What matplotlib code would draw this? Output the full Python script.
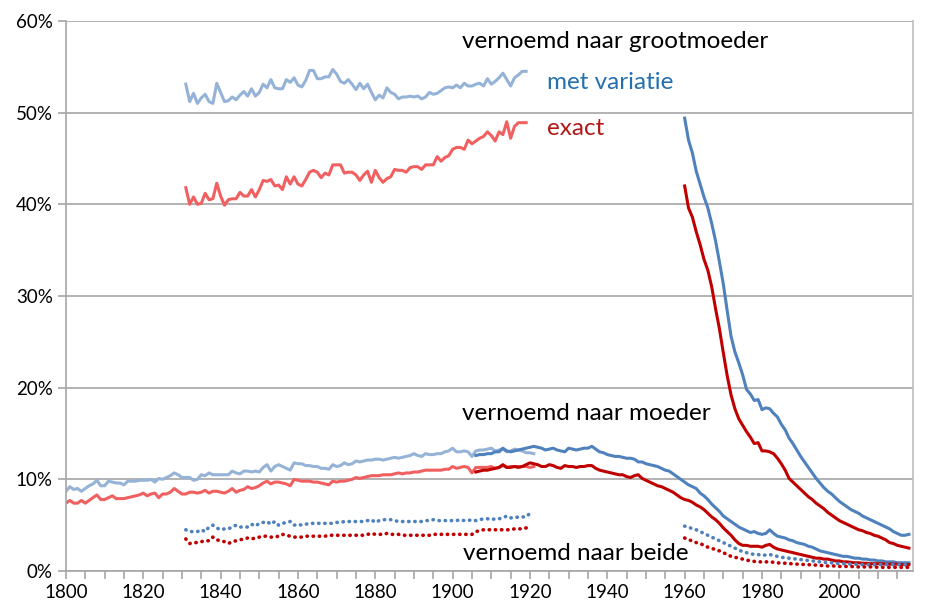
import numpy as np
import matplotlib.pyplot as plt
from matplotlib.ticker import MultipleLocator, FuncFormatter

plt.rcParams['font.family'] = ['Lato', 'DejaVu Sans']

#%% data (percentages)
# grandmother, 1831-1919
jaren_gm_oud = np.arange(1831, 1920)
gm_var_oud = [53.1, 51.2, 52.1, 51.0, 51.6, 52.0, 51.2, 51.0, 53.2, 52.2,
              51.2, 51.3, 51.7, 51.4, 51.9, 52.3, 51.8, 52.6, 51.8, 52.2,
              53.1, 52.7, 53.6, 52.7, 52.6, 52.6, 53.6, 53.3, 53.8, 53.0,
              52.8, 53.5, 54.6, 54.6, 53.7, 53.7, 53.9, 53.9, 54.7, 54.2,
              53.4, 53.2, 53.6, 53.1, 52.5, 53.2, 52.6, 53.1, 52.2, 51.4,
              51.9, 51.6, 52.7, 52.2, 52.0, 51.5, 51.7, 51.7, 51.8, 51.7,
              51.8, 51.5, 51.7, 52.2, 52.0, 52.1, 52.4, 52.7, 52.8, 52.7,
              53.0, 52.7, 53.2, 52.9, 52.9, 53.1, 53.2, 52.9, 53.7, 53.1,
              53.4, 53.8, 54.3, 53.6, 52.9, 53.8, 54.1, 54.5, 54.5]
gm_exact_oud = [41.8, 40.0, 40.8, 40.0, 40.1, 41.2, 40.5, 40.6, 42.3, 40.9,
                39.9, 40.5, 40.6, 40.6, 41.3, 40.9, 40.9, 41.6, 40.8, 41.6,
                42.6, 42.5, 42.7, 42.0, 42.1, 41.6, 43.0, 42.2, 43.0, 42.2,
                42.0, 42.7, 43.5, 43.7, 43.5, 42.9, 43.4, 43.2, 44.3, 44.3,
                44.3, 43.4, 43.5, 43.5, 43.2, 42.6, 43.2, 43.6, 42.4, 43.7,
                42.9, 42.4, 42.8, 43.0, 43.8, 43.7, 43.7, 43.5, 44.0, 44.1,
                44.1, 43.8, 44.3, 44.3, 44.3, 45.2, 44.7, 45.1, 45.3, 46.0,
                46.2, 46.2, 46.0, 47.0, 46.6, 46.9, 47.2, 47.4, 47.9, 47.5,
                46.9, 47.9, 47.6, 49.0, 47.2, 48.5, 48.9, 48.9, 48.9]

# grandmother, 1960-2018
jaren_nieuw = np.arange(1960, 2019)
gm_var_nieuw = [49.4, 47.0, 45.6, 43.6, 42.2, 40.8, 39.6, 37.9, 36.0, 33.7,
                31.3, 28.4, 25.6, 23.9, 22.7, 21.4, 19.8, 19.3, 18.6, 18.7,
                17.6, 17.8, 17.7, 17.2, 16.8, 16.0, 15.4, 14.5, 13.9, 13.2,
                12.5, 11.9, 11.3, 10.7, 10.1, 9.6, 9.1, 8.7, 8.4, 8.0,
                7.6, 7.3, 7.0, 6.7, 6.5, 6.3, 6.0, 5.8, 5.6, 5.4,
                5.2, 5.0, 4.8, 4.6, 4.3, 4.1, 3.9, 3.9, 4.0]
gm_exact_nieuw = [42.0, 39.6, 38.6, 37.0, 35.6, 34.0, 32.8, 31.0, 28.6, 26.4,
                  23.8, 21.3, 19.2, 17.7, 16.6, 15.9, 15.2, 14.6, 13.9, 14.0,
                  13.1, 13.1, 13.0, 12.8, 12.3, 11.7, 11.0, 10.1, 9.7, 9.3,
                  8.9, 8.5, 8.1, 7.8, 7.4, 7.1, 6.8, 6.4, 6.1, 5.8,
                  5.5, 5.3, 5.1, 4.9, 4.7, 4.5, 4.4, 4.2, 4.1, 3.9,
                  3.8, 3.6, 3.4, 3.1, 3.0, 2.8, 2.7, 2.6, 2.5]

# mother, 1800-1921
jaren_m_oud = np.arange(1800, 1922)
m_var_oud = [8.7, 9.2, 8.9, 9.0, 8.7, 9.0, 9.3, 9.5, 9.9, 9.3,
             9.3, 9.8, 9.7, 9.6, 9.6, 9.4, 9.8, 9.8, 9.8, 9.9,
             9.9, 9.9, 10.0, 9.7, 10.1, 10.0, 10.2, 10.4, 10.7, 10.5,
             10.2, 10.2, 10.2, 9.9, 10.0, 10.5, 10.4, 10.7, 10.5, 10.5,
             10.5, 10.5, 10.5, 10.9, 10.7, 10.6, 10.9, 10.9, 10.8, 10.9,
             10.8, 11.3, 11.6, 10.9, 11.4, 11.6, 11.4, 11.2, 11.0, 11.8,
             11.7, 11.7, 11.5, 11.5, 11.4, 11.4, 11.2, 11.2, 11.1, 11.6,
             11.4, 11.5, 11.8, 11.6, 11.7, 12.0, 11.9, 12.0, 12.1, 12.1,
             12.2, 12.2, 12.1, 12.2, 12.3, 12.4, 12.3, 12.4, 12.5, 12.6,
             12.8, 12.6, 12.5, 12.8, 12.7, 12.7, 12.8, 12.8, 13.0, 13.1,
             13.4, 13.0, 13.0, 13.1, 13.0, 12.5, 13.1, 13.2, 13.2, 13.3,
             13.4, 13.1, 13.2, 13.3, 13.0, 13.1, 13.3, 13.2, 13.1, 12.9,
             12.9, 12.8]
m_exact_oud = [7.4, 7.7, 7.4, 7.4, 7.7, 7.4, 7.7, 8.0, 8.3, 7.8,
               7.8, 8.0, 8.2, 7.9, 7.9, 7.9, 8.0, 8.1, 8.2, 8.3,
               8.5, 8.2, 8.4, 8.5, 8.0, 8.4, 8.4, 8.6, 9.0, 8.7,
               8.4, 8.4, 8.6, 8.6, 8.5, 8.6, 8.8, 8.5, 8.7, 8.7,
               8.6, 8.5, 8.7, 9.0, 8.6, 8.8, 8.9, 9.2, 9.0, 9.1,
               9.3, 9.6, 9.8, 9.5, 9.7, 9.7, 9.6, 9.5, 9.3, 10.0,
               9.9, 9.8, 9.8, 9.8, 9.7, 9.7, 9.6, 9.5, 9.4, 9.8,
               9.7, 9.8, 9.8, 9.9, 10.0, 10.2, 10.1, 10.2, 10.3, 10.4,
               10.4, 10.4, 10.5, 10.5, 10.5, 10.6, 10.7, 10.6, 10.7, 10.7,
               10.8, 10.8, 10.9, 11.0, 11.0, 11.0, 11.0, 11.0, 11.1, 11.1,
               11.4, 11.2, 11.3, 11.4, 11.3, 10.7, 11.3, 11.3, 11.3, 11.3,
               11.4, 11.2, 11.3, 11.5, 11.3, 11.4, 11.4, 11.4, 11.4, 11.4,
               11.3, 11.4]

# mother, 1906-2018
jaren_m_nieuw = np.arange(1906, 2019)
m_var_nieuw = [12.6, 12.7, 12.7, 12.8, 12.8, 13.0, 13.0, 13.4, 13.1, 13.0,
               13.1, 13.2, 13.3, 13.4, 13.5, 13.6, 13.5, 13.4, 13.2, 13.3,
               13.4, 13.2, 13.1, 13.0, 13.4, 13.3, 13.2, 13.3, 13.4, 13.4,
               13.6, 13.3, 13.0, 12.9, 12.7, 12.6, 12.5, 12.5, 12.4, 12.3,
               12.3, 12.2, 11.9, 11.9, 11.7, 11.6, 11.5, 11.4, 11.2, 11.0,
               10.9, 10.6, 10.3, 10.0, 9.7, 9.4, 9.2, 9.0, 8.5, 8.2,
               7.8, 7.3, 6.9, 6.5, 6.0, 5.7, 5.4, 5.1, 4.8, 4.6,
               4.4, 4.2, 4.3, 4.1, 4.0, 4.1, 4.5, 4.1, 3.8, 3.7,
               3.6, 3.4, 3.3, 3.1, 3.0, 2.9, 2.7, 2.6, 2.4, 2.2,
               2.1, 2.0, 1.9, 1.8, 1.7, 1.6, 1.6, 1.5, 1.4, 1.4,
               1.3, 1.3, 1.2, 1.2, 1.1, 1.1, 1.0, 1.0, 1.0, 0.9,
               0.9, 0.9, 0.9]
m_exact_nieuw = [10.8, 10.9, 11.0, 11.0, 11.1, 11.2, 11.3, 11.6, 11.3, 11.3,
                 11.4, 11.3, 11.4, 11.6, 11.8, 11.7, 11.6, 11.4, 11.4, 11.6,
                 11.5, 11.3, 11.2, 11.5, 11.4, 11.4, 11.3, 11.4, 11.4, 11.5,
                 11.5, 11.2, 11.0, 10.9, 10.8, 10.7, 10.6, 10.5, 10.5, 10.3,
                 10.2, 10.4, 10.5, 10.1, 9.9, 9.7, 9.5, 9.3, 9.2, 9.0,
                 8.8, 8.6, 8.3, 8.0, 7.8, 7.7, 7.5, 7.2, 7.0, 6.7,
                 6.3, 5.9, 5.6, 5.2, 4.7, 4.3, 3.9, 3.4, 3.0, 2.8,
                 2.8, 2.7, 2.7, 2.7, 2.6, 2.8, 2.9, 2.6, 2.4, 2.3,
                 2.2, 2.1, 2.0, 1.9, 1.8, 1.7, 1.6, 1.5, 1.4, 1.4,
                 1.3, 1.3, 1.2, 1.1, 1.1, 1.0, 1.0, 0.95, 0.9, 0.9,
                 0.85, 0.85, 0.8, 0.8, 0.8, 0.8, 0.75, 0.75, 0.75, 0.75,
                 0.7, 0.7, 0.7]

# both, 1831-1920
jaren_b_oud = np.arange(1831, 1921)
b_var_oud = [4.5, 4.3, 4.3, 4.3, 4.5, 4.3, 4.8, 5.0, 4.7, 4.5,
             4.6, 4.6, 4.8, 5.0, 4.8, 4.8, 4.8, 5.1, 4.9, 5.2,
             5.3, 5.4, 5.1, 5.4, 5.0, 5.2, 5.3, 5.4, 5.0, 5.1,
             5.0, 5.1, 5.2, 5.2, 5.2, 5.2, 5.2, 5.2, 5.2, 5.3,
             5.3, 5.4, 5.4, 5.4, 5.4, 5.4, 5.4, 5.5, 5.6, 5.3,
             5.5, 5.6, 5.6, 5.6, 5.5, 5.4, 5.4, 5.4, 5.4, 5.4,
             5.4, 5.4, 5.5, 5.5, 5.6, 5.5, 5.5, 5.5, 5.5, 5.5,
             5.5, 5.6, 5.5, 5.5, 5.6, 5.5, 5.6, 5.7, 5.7, 5.6,
             5.7, 5.7, 5.8, 6.0, 5.8, 5.8, 5.9, 5.9, 5.9, 6.3]
b_exact_oud = [3.5, 3.0, 3.1, 3.1, 3.2, 3.3, 3.3, 3.7, 3.4, 3.3,
               3.2, 3.0, 3.2, 3.3, 3.4, 3.5, 3.6, 3.5, 3.6, 3.7,
               3.8, 3.8, 3.7, 3.7, 3.8, 4.0, 3.9, 3.8, 3.7, 3.7,
               3.7, 3.8, 3.8, 3.8, 3.8, 3.8, 3.8, 3.9, 3.9, 3.9,
               3.9, 3.9, 3.9, 3.9, 3.9, 3.9, 3.9, 4.0, 4.1, 4.0,
               4.0, 4.0, 4.1, 4.0, 4.0, 4.0, 3.9, 3.9, 3.9, 3.9,
               3.9, 3.9, 3.9, 3.9, 4.0, 4.0, 4.0, 4.0, 4.0, 4.0,
               4.0, 4.0, 4.0, 4.0, 4.0, 4.3, 4.4, 4.5, 4.5, 4.5,
               4.5, 4.5, 4.5, 4.5, 4.5, 4.6, 4.6, 4.6, 4.7, 4.8]

# both, 1960-2018
b_var_nieuw = [4.9, 4.8, 4.6, 4.5, 4.3, 4.1, 3.9, 3.7, 3.5, 3.3,
               3.1, 2.9, 2.7, 2.5, 2.3, 2.1, 2.0, 1.9, 1.8, 1.8,
               1.7, 1.75, 1.8, 1.7, 1.6, 1.5, 1.45, 1.4, 1.35, 1.3,
               1.25, 1.2, 1.15, 1.1, 1.05, 1.0, 0.95, 0.9, 0.9, 0.85,
               0.8, 0.8, 0.8, 0.75, 0.75, 0.7, 0.7, 0.7, 0.7, 0.7,
               0.7, 0.7, 0.7, 0.7, 0.7, 0.7, 0.7, 0.7, 0.7]
b_exact_nieuw = [3.6, 3.4, 3.3, 3.1, 3.0, 2.8, 2.6, 2.5, 2.3, 2.2,
                 2.0, 1.8, 1.6, 1.5, 1.4, 1.3, 1.2, 1.1, 1.05, 1.0,
                 1.0, 1.0, 1.0, 0.95, 0.9, 0.85, 0.85, 0.8, 0.8, 0.75,
                 0.75, 0.7, 0.7, 0.65, 0.65, 0.6, 0.6, 0.55, 0.55, 0.55,
                 0.5, 0.5, 0.5, 0.5, 0.45, 0.45, 0.45, 0.45, 0.45, 0.45,
                 0.4, 0.4, 0.4, 0.4, 0.4, 0.4, 0.4, 0.4, 0.4]

#%% colours
lichtblauw = '#95B3D7'
lichtrood = '#F06060'
donkerblauw = '#4F81BD'
donkerrood = '#C00000'
stip = (0, (0.1, 1.6))   # round dots

fig = plt.figure(figsize=(9.42, 6.15), dpi=100)
ax = fig.add_axes([0.070, 0.0715, 0.899, 0.8945])

lw = 2.2
lw_stip = 2.6
# old series (lighter)
ax.plot(jaren_gm_oud, gm_var_oud, color=lichtblauw, lw=lw)
ax.plot(jaren_gm_oud, gm_exact_oud, color=lichtrood, lw=lw)
ax.plot(jaren_m_oud, m_var_oud, color=lichtblauw, lw=lw)
ax.plot(jaren_m_oud, m_exact_oud, color=lichtrood, lw=lw)
ax.plot(jaren_b_oud, b_var_oud, color=donkerblauw, lw=lw_stip, ls=stip, dash_capstyle='round')
ax.plot(jaren_b_oud, b_exact_oud, color=donkerrood, lw=lw_stip, ls=stip, dash_capstyle='round')
# new series (darker)
ax.plot(jaren_nieuw, gm_var_nieuw, color=donkerblauw, lw=lw)
ax.plot(jaren_nieuw, gm_exact_nieuw, color=donkerrood, lw=lw)
ax.plot(jaren_m_nieuw, m_var_nieuw, color=donkerblauw, lw=lw)
ax.plot(jaren_m_nieuw, m_exact_nieuw, color=donkerrood, lw=lw)
ax.plot(jaren_nieuw, b_var_nieuw, color=donkerblauw, lw=lw_stip, ls=stip, dash_capstyle='round')
ax.plot(jaren_nieuw, b_exact_nieuw, color=donkerrood, lw=lw_stip, ls=stip, dash_capstyle='round')

ax.set_xlim(1800, 2019)
ax.set_ylim(0, 60)
ax.xaxis.set_major_locator(MultipleLocator(20))
ax.xaxis.set_minor_locator(MultipleLocator(5))
ax.yaxis.set_major_locator(MultipleLocator(10))
ax.yaxis.set_major_formatter(FuncFormatter(lambda v, p: '%d%%' % v))
ax.grid(axis='y', color='#A6A6A6', lw=1.2)
ax.set_axisbelow(True)
ax.tick_params(axis='both', which='both', direction='out', length=6, width=1.2,
               colors='#A6A6A6', labelcolor='black', labelsize=13.5)
for k in ['left', 'bottom', 'right']:
    ax.spines[k].set_color('#A6A6A6')
    ax.spines[k].set_linewidth(1.2)
ax.spines['top'].set_visible(False)
ax.spines['right'].set_color('#BFBFBF')

# labels
ax.text(1902.3, 57.8, 'vernoemd naar grootmoeder', fontsize=17.5, color='black', va='center')
ax.text(1924.3, 53.3, 'met variatie', fontsize=17.5, color='#2470B0', va='center')
ax.text(1924.3, 48.3, 'exact', fontsize=17.5, color='#B01818', va='center')
ax.text(1902.3, 17.2, 'vernoemd naar moeder', fontsize=17.5, color='black', va='center')
ax.text(1902.8, 1.9, 'vernoemd naar beide', fontsize=17.5, color='black', va='center')

plt.savefig('out.png', dpi=100)
